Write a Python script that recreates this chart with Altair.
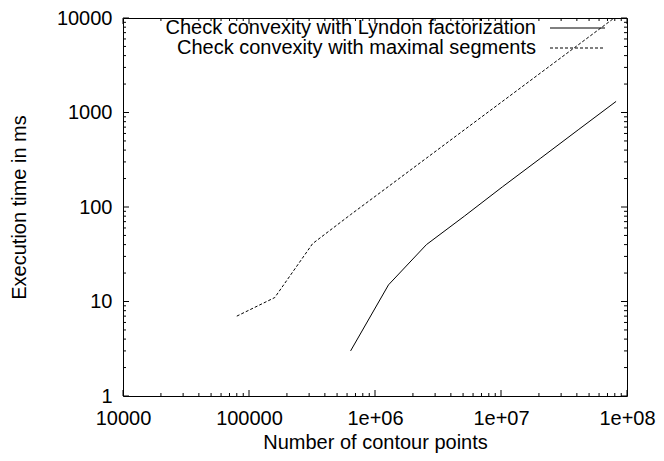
import altair as alt
import pandas as pd

# ---- data ----
x_points = [80000, 160000, 320000, 640000, 1280000, 2560000, 5120000,
            10240000, 20480000, 40960000, 81920000]
lyndon_x = x_points[3:]
lyndon_ms = [3, 15, 40, 80, 163, 326, 655, 1310]
maxseg_x = x_points
maxseg_ms = [7, 11, 41, 83, 165, 329, 656, 1307, 2606, 5190, 10350]

series_names = ["Check convexity with Lyndon factorization",
                "Check convexity with maximal segments"]

x_tick_values = [1e4, 1e5, 1e6, 1e7, 1e8]
x_tick_labels = ["10000", "100000", "1e+06", "1e+07", "1e+08"]
y_tick_values = [1, 10, 100, 1000, 10000]
y_tick_labels = ["1", "10", "100", "1000", "10000"]
minor_multipliers = [2, 3, 4, 5, 6, 7, 8, 9]

W, H = 504, 378
FONT = "Liberation Sans"
FS = 20

df = pd.concat([
    pd.DataFrame({"n": lyndon_x, "ms": lyndon_ms, "series": series_names[0]}),
    pd.DataFrame({"n": maxseg_x, "ms": maxseg_ms, "series": series_names[1]}),
])

xscale = alt.Scale(type="log", domain=[1e4, 1e8], nice=False)
yscale = alt.Scale(type="log", domain=[1, 1e4], nice=False)


def label_expr(values, labels):
    expr = "''"
    for v, l in reversed(list(zip(values, labels))):
        expr = f"datum.value == {v:g} ? '{l}' : ({expr})"
    return expr


xaxis = alt.Axis(values=x_tick_values, labelExpr=label_expr(x_tick_values, x_tick_labels),
                 ticks=False, grid=False, domain=False, labelFont=FONT, labelFontSize=FS,
                 labelColor="black", labelPadding=12, labelFlush=False, labelOverlap=False,
                 titleFont=FONT, titleFontSize=FS,
                 titleFontWeight="normal", titleColor="black", titlePadding=4)
yaxis = alt.Axis(values=y_tick_values, labelExpr=label_expr(y_tick_values, y_tick_labels),
                 ticks=False, grid=False, domain=False, labelFont=FONT, labelFontSize=FS,
                 labelColor="black", labelPadding=11, labelFlush=False, labelOverlap=False,
                 titleFont=FONT, titleFontSize=FS,
                 titleFontWeight="normal", titleColor="black", titlePadding=27)

base = alt.Chart(df)

solid = base.transform_filter(alt.datum.series == series_names[0]).mark_line(
    color="black", strokeWidth=1, clip=True
).encode(
    x=alt.X("n:Q", scale=xscale, axis=xaxis, title="Number of contour points"),
    y=alt.Y("ms:Q", scale=yscale, axis=yaxis, title="Execution time in ms"),
)
dashed = base.transform_filter(alt.datum.series == series_names[1]).mark_line(
    color="black", strokeWidth=1, strokeDash=[3, 2], clip=True
).encode(
    x=alt.X("n:Q", scale=xscale),
    y=alt.Y("ms:Q", scale=yscale),
)

# inward ticks (gnuplot style), mirrored on all four sides
xmaj = pd.DataFrame({"v": x_tick_values})
xmin = pd.DataFrame({"v": [m * d for d in x_tick_values[:-1] for m in minor_multipliers]})
ymaj = pd.DataFrame({"v": y_tick_values})
ymin = pd.DataFrame({"v": [m * d for d in y_tick_values[:-1] for m in minor_multipliers]})


def xticks(data, length):
    b = alt.Chart(data).mark_rule(color="black", strokeWidth=1)
    bottom = b.encode(x=alt.X("v:Q", scale=xscale), y=alt.value(H), y2=alt.value(H - length))
    top = b.encode(x=alt.X("v:Q", scale=xscale), y=alt.value(0), y2=alt.value(length))
    return bottom + top


def yticks(data, length):
    b = alt.Chart(data).mark_rule(color="black", strokeWidth=1)
    left = b.encode(y=alt.Y("v:Q", scale=yscale), x=alt.value(0), x2=alt.value(length))
    right = b.encode(y=alt.Y("v:Q", scale=yscale), x=alt.value(W), x2=alt.value(W - length))
    return left + right


ticks = xticks(xmaj, 6) + xticks(xmin, 3) + yticks(ymaj, 6) + yticks(ymin, 3)

# legend (gnuplot style: label right-aligned, sample to the right)
leg_df = pd.DataFrame({"label": series_names})
leg_rows = []
for i, name in enumerate(series_names):
    yy = 10 + i * 20
    t = alt.Chart(leg_df).transform_filter(alt.datum.label == name).mark_text(
        align="right", baseline="middle", font=FONT, fontSize=FS, color="black"
    ).encode(text="label:N", x=alt.value(413), y=alt.value(yy))
    r = alt.Chart(leg_df).transform_filter(alt.datum.label == name).mark_rule(
        color="black", strokeWidth=1, strokeDash=[3, 2] if i == 1 else [1, 0]
    ).encode(x=alt.value(427), x2=alt.value(482), y=alt.value(yy))
    leg_rows += [t, r]

chart = alt.layer(solid, dashed, ticks, *leg_rows).properties(
    width=W, height=H,
    autosize=alt.AutoSizeParams(type="none"),
    padding={"left": 115, "top": 10, "right": 29, "bottom": 57},
).configure_view(stroke="black", strokeWidth=1)

chart.save("out.html", embed_options={"renderer": "svg", "actions": False})
